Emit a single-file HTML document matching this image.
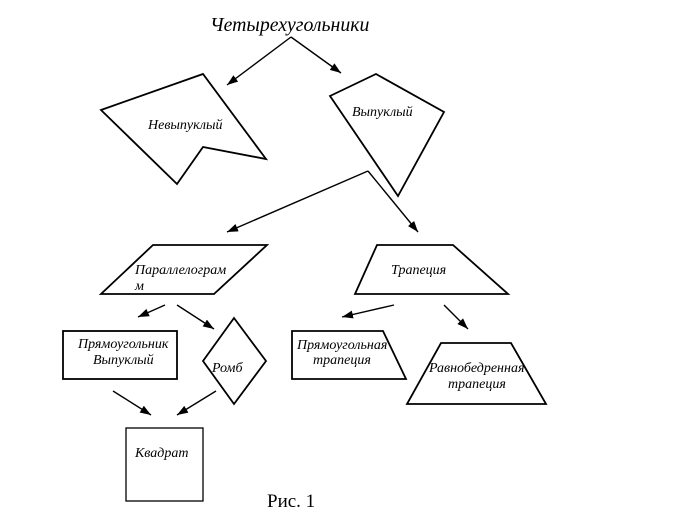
<!DOCTYPE html>
<html><head><meta charset="utf-8"><style>html,body{margin:0;padding:0;background:#fff}svg{display:block}
text{font-family:"Liberation Serif",serif;font-style:italic;font-size:14px;fill:#000}</style></head><body>
<svg width="685" height="525" viewBox="0 0 685 525" xmlns="http://www.w3.org/2000/svg">
<defs><marker id="a" markerUnits="userSpaceOnUse" markerWidth="12" markerHeight="10" refX="11" refY="4" orient="auto"><path d="M0,0L11,4L0,8Z" fill="#000"/></marker></defs>
<g fill="#fff" stroke="#000" stroke-width="1.8" stroke-linejoin="miter">
<polygon points="101,110 203,74 266,159 203,147 177,184"/>
<polygon points="330,96 376,74 444,112 398,196"/>
<polygon points="153,245 267,245 214,294 101,294"/>
<polygon points="377,245 453,245 508,294 355,294"/>
<rect x="63" y="331" width="114" height="48"/>
<polygon points="234,318 266,361 234,404 203,361"/>
<rect x="126" y="428" width="77" height="73" stroke-width="1.3"/>
<polygon points="292,331 383,331 406,379 292,379"/>
<polygon points="441,343 511,343 546,404 407,404"/>
</g>
<g fill="none" stroke="#000" stroke-width="1.4">
<path d="M291,37L227,85" marker-end="url(#a)"/>
<path d="M291,37L341,73" marker-end="url(#a)"/>
<path d="M368,171L227,232" marker-end="url(#a)"/>
<path d="M368,171L418,232" marker-end="url(#a)"/>
<path d="M165,305L138,317" marker-end="url(#a)"/>
<path d="M177,305L214,329" marker-end="url(#a)"/>
<path d="M113,391L151,415" marker-end="url(#a)"/>
<path d="M216,391L177,415" marker-end="url(#a)"/>
<path d="M394,305L342,317" marker-end="url(#a)"/>
<path d="M444,305L468,329" marker-end="url(#a)"/>
</g>
<text x="210" y="31" style="font-size:19.8px">Четырехугольники</text>
<text x="148" y="129">Невыпуклый</text>
<text x="352" y="116">Выпуклый</text>
<text x="135" y="274">Параллелограм</text>
<text x="135" y="290">м</text>
<text x="391" y="274">Трапеция</text>
<text x="78" y="348">Прямоугольник</text>
<text x="93" y="364">Выпуклый</text>
<text x="212" y="372">Ромб</text>
<text x="135" y="457">Квадрат</text>
<text x="297" y="349">Прямоугольная</text>
<text x="313" y="364">трапеция</text>
<text x="429" y="372">Равнобедренная</text>
<text x="448" y="388">трапеция</text>
<text x="267" y="507" style="font-style:normal;font-size:19px">Рис. 1</text>
</svg></body></html>
